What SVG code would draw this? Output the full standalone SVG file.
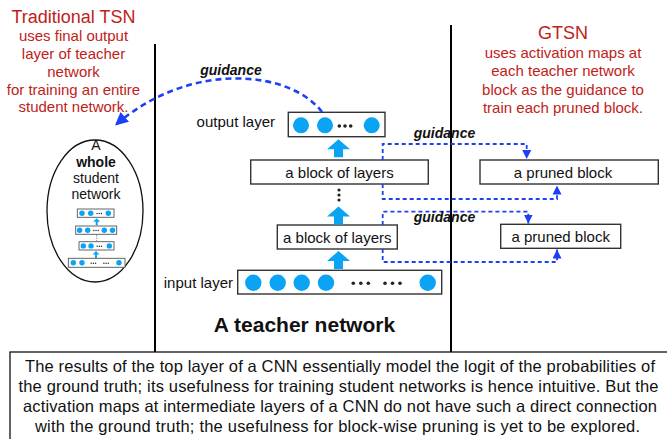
<svg xmlns="http://www.w3.org/2000/svg" width="667" height="439" viewBox="0 0 667 439">
<style>
text{font-family:"Liberation Sans",Arial,Helvetica,sans-serif;fill:#111}
.red{fill:#c0221a;text-anchor:middle}
.t15{font-size:15px}
.nt{font-size:16.5px;text-anchor:middle}
.c{text-anchor:middle}
.box{fill:#fff;stroke:#333;stroke-width:1.4}
.mbox{fill:#fff;stroke:#555;stroke-width:0.9}
.dot{fill:#0ba3f4}
.bk{fill:#222}
.gd{fill:none;stroke:#1c40f5;stroke-width:1.8;stroke-dasharray:4 3}
.gl{font-size:14px;font-weight:bold;font-style:italic;text-anchor:middle}
.vl{stroke:#000;stroke-width:2}
</style>
<defs>
<marker id="ah" viewBox="0 0 10 10" refX="10" refY="5" markerWidth="5" markerHeight="5" orient="auto" markerUnits="strokeWidth">
<path d="M0,0 L10,5 L0,10 Z" fill="#1c40f5"/>
</marker>
<marker id="ahs" viewBox="0 0 10 10" refX="10" refY="5" markerWidth="5" markerHeight="5" orient="auto" markerUnits="strokeWidth">
<path d="M0,0 L10,5 L0,10 Z" fill="#1c40f5"/>
</marker>
<path id="bigup" d="M0,0 L11.5,10 L4.5,10 L4.5,18 L-4.5,18 L-4.5,10 L-11.5,10 Z" fill="#0ba3f4"/>
<path id="smup" d="M0,0 L3.5,3.5 L1,3.5 L1,7 L-1,7 L-1,3.5 L-3.5,3.5 Z" fill="#0ba3f4"/>
</defs>

<!-- divider lines -->
<g id="dividers">
<line class="vl" x1="155" y1="44" x2="155" y2="352"/>
<line class="vl" x1="451" y1="25" x2="451" y2="352"/>
</g>

<!-- left explanation -->
<g id="traditional-tsn">
<text class="red" x="73.5" y="23" font-size="18">Traditional TSN</text>
<text class="red t15" x="73.5" y="41">uses final output</text>
<text class="red t15" x="73.5" y="59">layer of teacher</text>
<text class="red t15" x="73.5" y="77">network</text>
<text class="red t15" x="73.5" y="94.5">for training an entire</text>
<text class="red t15" x="73.5" y="112">student network.</text>
</g>

<!-- right explanation -->
<g id="gtsn">
<text class="red" x="563" y="39" font-size="18">GTSN</text>
<text class="red t15" x="563" y="58">uses activation maps at</text>
<text class="red t15" x="563" y="76">each teacher network</text>
<text class="red t15" x="563" y="94.5">block as the guidance to</text>
<text class="red t15" x="563" y="113">train each pruned block.</text>
</g>

<!-- student network ellipse -->
<g id="student-network">
<ellipse cx="95" cy="211" rx="48" ry="71" fill="#fff" stroke="#111" stroke-width="1.3"/>
<text class="c" x="96" y="150" font-size="14">A</text>
<text class="c" x="96" y="167" font-size="14" font-weight="bold">whole</text>
<text class="c" x="96" y="183" font-size="14">student</text>
<text class="c" x="96" y="198.5" font-size="14">network</text>
<rect class="mbox" x="77.3" y="209" width="36.7" height="8.3"/>
<circle class="dot" cx="82" cy="213.2" r="2.7"/>
<circle class="dot" cx="90.7" cy="213.2" r="2.7"/>
<circle class="bk" cx="97" cy="213.5" r="0.7"/><circle class="bk" cx="99.2" cy="213.5" r="0.7"/><circle class="bk" cx="101.4" cy="213.5" r="0.7"/>
<circle class="dot" cx="108.3" cy="213.2" r="2.7"/>
<use href="#smup" x="96.7" y="218.3"/>
<rect class="mbox" x="75.7" y="226" width="41" height="8.3"/>
<circle class="dot" cx="79.6" cy="230.2" r="2.7"/>
<circle class="dot" cx="87.7" cy="230.2" r="2.7"/>
<circle class="bk" cx="93.8" cy="230.5" r="0.7"/><circle class="bk" cx="96" cy="230.5" r="0.7"/><circle class="bk" cx="98.2" cy="230.5" r="0.7"/>
<circle class="dot" cx="104.3" cy="230.2" r="2.7"/>
<circle class="dot" cx="112.5" cy="230.2" r="2.7"/>
<line x1="96.7" y1="235" x2="96.7" y2="241" stroke="#777" stroke-width="0.8" stroke-dasharray="1.5 1"/>
<rect class="mbox" x="79" y="241.7" width="35" height="8.3"/>
<circle class="dot" cx="83.3" cy="245.9" r="2.7"/>
<circle class="dot" cx="91" cy="245.9" r="2.7"/>
<circle class="bk" cx="97.2" cy="246.2" r="0.7"/><circle class="bk" cx="99.4" cy="246.2" r="0.7"/><circle class="bk" cx="101.6" cy="246.2" r="0.7"/>
<circle class="dot" cx="109.3" cy="245.9" r="2.7"/>
<use href="#smup" x="96" y="251"/>
<rect class="mbox" x="68.3" y="258.3" width="56.7" height="9"/>
<circle class="dot" cx="73.3" cy="262.8" r="2.7"/>
<circle class="dot" cx="82" cy="262.8" r="2.7"/>
<circle class="bk" cx="91.2" cy="263.2" r="0.7"/><circle class="bk" cx="93.4" cy="263.2" r="0.7"/><circle class="bk" cx="95.6" cy="263.2" r="0.7"/>
<circle class="bk" cx="103.9" cy="263.2" r="0.7"/><circle class="bk" cx="106.1" cy="263.2" r="0.7"/><circle class="bk" cx="108.3" cy="263.2" r="0.7"/>
<circle class="dot" cx="119" cy="262.8" r="2.7"/>
</g>

<!-- teacher network -->
<g id="output-layer">
<text x="275" y="126.5" font-size="15" text-anchor="end">output layer</text>
<rect class="box" x="288.3" y="112.3" width="96.7" height="24.4"/>
<circle class="dot" cx="301" cy="125.3" r="8"/>
<circle class="dot" cx="325" cy="125.3" r="8"/>
<circle class="bk" cx="339.3" cy="126" r="1.8"/><circle class="bk" cx="345" cy="126" r="1.8"/><circle class="bk" cx="350.7" cy="126" r="1.8"/>
<circle class="dot" cx="371.7" cy="125.3" r="8"/>
</g>
<g id="block-upper">
<rect class="box" x="250.7" y="160" width="177.6" height="24"/>
<text class="c t15" x="339.5" y="177.5">a block of layers</text>
</g>
<g id="block-lower">
<rect class="box" x="277.3" y="225" width="120" height="24"/>
<text class="c t15" x="337.3" y="242.5">a block of layers</text>
</g>
<g id="input-layer">
<text x="233" y="287.5" font-size="15" text-anchor="end">input layer</text>
<rect class="box" x="237.7" y="270.3" width="204" height="23.7"/>
<circle class="dot" cx="253.3" cy="282.7" r="8.2"/>
<circle class="dot" cx="277.7" cy="282.7" r="8.2"/>
<circle class="dot" cx="301.7" cy="282.7" r="8.2"/>
<circle class="dot" cx="326" cy="282.7" r="8.2"/>
<circle class="bk" cx="353.3" cy="283.3" r="1.8"/><circle class="bk" cx="360.8" cy="283.3" r="1.8"/><circle class="bk" cx="368.3" cy="283.3" r="1.8"/>
<circle class="bk" cx="385" cy="283.3" r="1.8"/><circle class="bk" cx="392.5" cy="283.3" r="1.8"/><circle class="bk" cx="400" cy="283.3" r="1.8"/>
<circle class="dot" cx="427.7" cy="282.7" r="8.2"/>
</g>
<g id="teacher-label">
<text class="c" x="304.5" y="332" font-size="21" font-weight="bold">A teacher network</text>
</g>

<!-- pruned blocks -->
<g id="pruned-block-upper">
<rect class="box" x="480" y="160" width="178.3" height="24"/>
<text class="c t15" x="563" y="177.5">a pruned block</text>
</g>
<g id="pruned-block-lower">
<rect class="box" x="500.7" y="224.3" width="120" height="24"/>
<text class="c t15" x="560.7" y="241.8">a pruned block</text>
</g>

<!-- connectors -->
<g id="connectors">
<use href="#bigup" x="338.5" y="139.3"/>
<circle class="bk" cx="339" cy="190" r="1.6"/><circle class="bk" cx="339" cy="195" r="1.6"/><circle class="bk" cx="339" cy="200" r="1.6"/>
<use href="#bigup" x="338.5" y="206.5"/>
<use href="#bigup" x="338.5" y="251"/>

<path d="M322,112 C290,70 190,60 115,125.5" fill="none" stroke="#1c40f5" stroke-width="2.6" stroke-dasharray="6 4" marker-end="url(#ah)"/>
<text class="gl" x="231" y="75">guidance</text>

<path class="gd" d="M382.7,160 V144 H526.7 V159" marker-end="url(#ahs)"/>
<path class="gd" d="M382.7,184 V199 H557 V185.5" marker-end="url(#ahs)"/>
<text class="gl" x="444.5" y="138.3">guidance</text>
<path class="gd" d="M382.7,225 V211.7 H528.3 V223.5" marker-end="url(#ahs)"/>
<path class="gd" d="M382.7,249 V262 H557 V249.5" marker-end="url(#ahs)"/>
<text class="gl" x="444.5" y="222">guidance</text>
</g>

<!-- bottom note -->
<g id="note">
<rect x="10" y="352" width="670" height="100" fill="#fff" stroke="#111" stroke-width="1.3"/>
<text class="nt" x="340" y="371.5" textLength="630">The results of the top layer of a CNN essentially model the logit of the probabilities of</text>
<text class="nt" x="338.5" y="391.5" textLength="640">the ground truth; its usefulness for training student networks is hence intuitive. But the</text>
<text class="nt" x="340" y="411.5" textLength="634">activation maps at intermediate layers of a CNN do not have such a direct connection</text>
<text class="nt" x="337.5" y="431.5" textLength="605">with the ground truth; the usefulness for block-wise pruning is yet to be explored.</text>
</g>
</svg>
